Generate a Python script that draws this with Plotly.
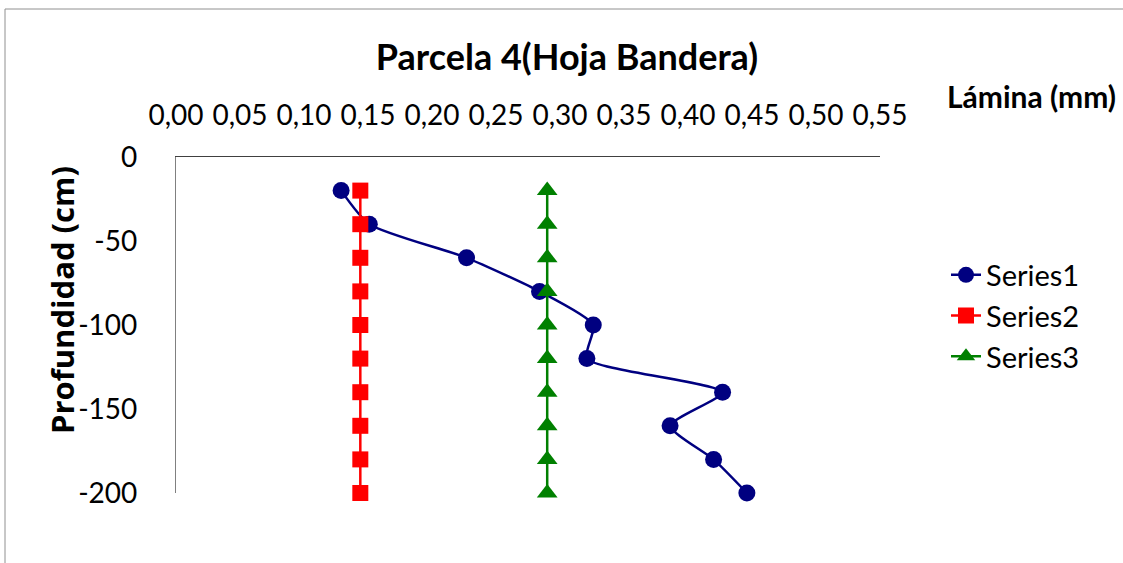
import plotly.graph_objects as go

depth = [-20, -40, -60, -80, -100, -120, -140, -160, -180, -200]
series1 = [0.129, 0.151, 0.227, 0.284, 0.326, 0.321, 0.427, 0.386, 0.420, 0.446]
series2 = [0.144] * 10
series3 = [0.290] * 10
x_ticks = [0, 0.05, 0.10, 0.15, 0.20, 0.25, 0.30, 0.35, 0.40, 0.45, 0.50, 0.55]
y_ticks = [0, -50, -100, -150, -200]
y_tick_labels = ["0", "-50", "-100", "-150", "-200"]

W, H = 1123, 563
L, R, T, B = 176, 880, 157, 493

fig = go.Figure()
fig.add_trace(go.Scatter(
    x=series1, y=depth, name="Series1", mode="lines+markers",
    line=dict(color="#000080", width=2.5, shape="spline", smoothing=0.6),
    marker=dict(symbol="circle", size=17, color="#000080"), cliponaxis=False))
fig.add_trace(go.Scatter(
    x=series2, y=depth, name="Series2", mode="lines+markers",
    line=dict(color="#FF0000", width=2.5),
    marker=dict(symbol="square", size=16, color="#FF0000"), cliponaxis=False))
fig.add_trace(go.Scatter(
    x=series3, y=depth, name="Series3", mode="lines+markers",
    line=dict(color="#008000", width=2.5),
    marker=dict(symbol="triangle-up", size=18, color="#008000"), cliponaxis=False))

def px_x(p):
    return (p - L) / (R - L)

def px_y(p):
    return (B - p) / (B - T)

fig.update_layout(
    width=W, height=H,
    margin=dict(l=L, r=W - R, t=T, b=H - B, pad=0),
    paper_bgcolor="white", plot_bgcolor="white",
    separators=",.",
    font=dict(family="Lato", color="black"),
    title=dict(text="<b>Parcela 4(Hoja Bandera)</b>", x=px_x(567), xref="paper",
               xanchor="center", y=1 - 57 / H, yanchor="middle",
               font=dict(size=36, family="Lato", color="black")),
    xaxis=dict(side="top", range=[0, 0.55], tickvals=x_ticks, tickformat=".2f",
               showgrid=False, zeroline=False, showline=True, linecolor="#404040",
               linewidth=1.3, ticks="", tickfont=dict(size=28, family="Lato"),
               ticklabelstandoff=20),
    yaxis=dict(range=[-200, 0], tickvals=y_ticks, ticktext=y_tick_labels,
               showgrid=False, zeroline=False,
               showline=True, linecolor="#808080", linewidth=1.3, ticks="",
               tickfont=dict(size=28, family="Lato"), ticklabelstandoff=32),
    legend=dict(x=px_x(946), y=px_y(316), xanchor="left", yanchor="middle",
                font=dict(size=29, family="Lato"), tracegroupgap=0,
                bgcolor="rgba(0,0,0,0)"),
    annotations=[
        dict(text="<b>Lámina (mm)</b>", xref="paper", yref="paper",
             x=px_x(1031), y=px_y(96), xanchor="center", yanchor="middle",
             showarrow=False, font=dict(size=30, family="Lato", color="black")),
        dict(text="<b>Profundidad (cm)</b>", xref="paper", yref="paper",
             x=px_x(62), y=px_y(300), xanchor="center", yanchor="middle",
             textangle=-90, showarrow=False,
             font=dict(size=31, family="Open Sans", color="black")),
    ],
    shapes=[
        dict(type="line", xref="paper", yref="paper", x0=px_x(5), x1=px_x(5),
             y0=px_y(9), y1=px_y(600), line=dict(color="#909090", width=1)),
        dict(type="line", xref="paper", yref="paper", x0=px_x(5), x1=px_x(1200),
             y0=px_y(9), y1=px_y(9), line=dict(color="#909090", width=1)),
    ],
)

fig.write_html("out.html", config={"displayModeBar": False},
               post_script="document.body.style.margin='0';")
